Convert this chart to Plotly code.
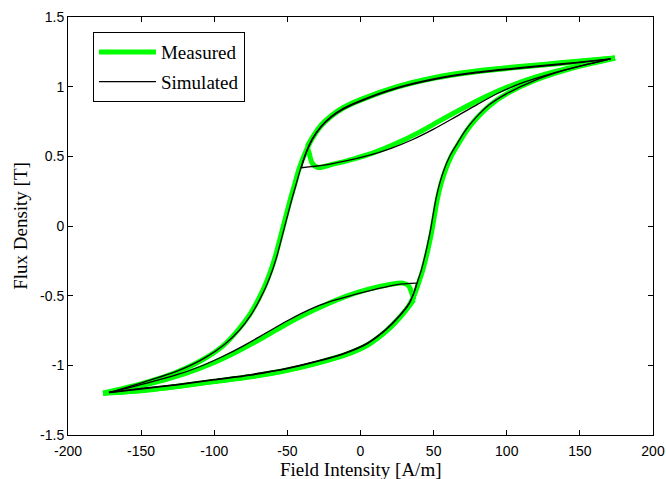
import plotly.graph_objects as go

# ---------------- data ----------------
# Simulated (black) trajectory, branch by branch
sim_desc_first_H = [171, 148, 125, 100, 75, 50, 25, 0, -12, -20, -27, -33, -37.5, -40.5]
sim_desc_first_B = [1.2, 1.175, 1.152, 1.127, 1.098, 1.056, 0.993, 0.900, 0.842, 0.785, 0.715, 0.625, 0.52, 0.418]

sim_inner_up_H = [-40.5, -25, -10, 5, 20, 35, 50, 65, 80, 95, 110, 130, 150, 171]
sim_inner_up_B = [0.418, 0.437, 0.467, 0.505, 0.553, 0.617, 0.695, 0.783, 0.873, 0.958, 1.025, 1.092, 1.148, 1.2]

sim_desc_H = [171, 148, 125, 100, 75, 50, 25, 0, -12, -20, -27, -33, -37.5, -41, -44, -47, -49.5,
              -52, -54.5, -57, -60, -64, -69, -75, -83, -93, -107, -125, -148, -172]
sim_desc_B = [1.2, 1.171, 1.147, 1.122, 1.093, 1.051, 0.988, 0.895, 0.837, 0.78, 0.71, 0.62, 0.515,
              0.41, 0.3, 0.19, 0.09, -0.01, -0.11, -0.21, -0.31, -0.42, -0.53, -0.64, -0.75,
              -0.85, -0.95, -1.04, -1.12, -1.195]

sim_asc_first_H = [-172, -150, -125, -100, -75, -50, -30, -10, 5, 17.6, 27, 33, 36.5, 38.5]
sim_asc_first_B = [-1.195, -1.17, -1.14, -1.105, -1.07, -1.024, -0.974, -0.912, -0.842, -0.743,
                   -0.643, -0.563, -0.48, -0.41]

sim_inner_down_H = [38.5, 25, 10, -5, -20, -35, -50, -65, -80, -95, -110, -125, -140, -156, -172]
sim_inner_down_B = [-0.41, -0.42, -0.455, -0.495, -0.54, -0.60, -0.68, -0.77, -0.86, -0.94,
                    -1.01, -1.065, -1.11, -1.155, -1.195]

sim_asc_H = [-172, -150, -125, -100, -75, -50, -30, -10, 5, 17.6, 27, 33, 36.5, 39, 41.5, 43.5,
             45.5, 47.5, 49.5, 51.5, 54, 57, 61, 66, 72, 79, 88, 100, 118, 140, 171]
sim_asc_B = [-1.195, -1.166, -1.136, -1.101, -1.066, -1.02, -0.97, -0.908, -0.838, -0.739,
             -0.639, -0.559, -0.48, -0.4, -0.32, -0.24, -0.15, -0.05, 0.07, 0.19, 0.3, 0.40,
             0.50, 0.59, 0.69, 0.78, 0.87, 0.95, 1.04, 1.12, 1.2]

# Measured (green) trajectory, branch by branch
meas_desc_first_H = [174, 148, 125, 100, 75, 50, 25, 0, -12, -20, -27, -32, -36.5]
meas_desc_first_B = [1.205, 1.182, 1.16, 1.136, 1.107, 1.065, 1.0, 0.907, 0.849, 0.792, 0.724, 0.65, 0.57]

meas_inner_up_H = [-36.5, -35, -33, -29, -20, -5, 10, 25, 40, 55, 70, 85, 100, 120, 145, 174]
meas_inner_up_B = [0.57, 0.52, 0.45, 0.42, 0.44, 0.48, 0.53, 0.595, 0.672, 0.76, 0.845, 0.925,
                   0.995, 1.07, 1.14, 1.205]

meas_desc_H = [174, 148, 125, 100, 75, 50, 25, 0, -12, -20, -27, -33, -38, -42, -45, -48, -50.5,
               -53, -55.5, -58, -61, -65, -70, -76, -84, -94, -108, -126, -149, -176]
meas_desc_B = [1.205, 1.178, 1.155, 1.131, 1.102, 1.06, 0.996, 0.903, 0.845, 0.788, 0.718, 0.628,
               0.52, 0.41, 0.3, 0.19, 0.09, -0.01, -0.11, -0.21, -0.31, -0.42, -0.53, -0.64,
               -0.75, -0.86, -0.96, -1.05, -1.13, -1.2]

meas_asc_first_H = [-176, -150, -125, -100, -75, -50, -30, -10, 5, 17.6, 27, 32.5, 36.5]
meas_asc_first_B = [-1.2, -1.182, -1.152, -1.117, -1.082, -1.036, -0.986, -0.924, -0.854, -0.755,
                    -0.655, -0.585, -0.53]

meas_inner_down_H = [36.5, 35, 33, 29, 20, 5, -10, -25, -40, -55, -70, -85, -100, -120, -145, -176]
meas_inner_down_B = [-0.53, -0.48, -0.43, -0.41, -0.42, -0.455, -0.505, -0.57, -0.645, -0.73,
                     -0.82, -0.905, -0.98, -1.06, -1.135, -1.2]

meas_asc_H = [-176, -150, -125, -100, -75, -50, -30, -10, 5, 17.6, 27, 33, 37, 40, 42.5, 44.5,
              46.5, 48.5, 50.5, 52.5, 55, 58, 62, 67, 73, 80, 89, 101, 119, 142, 174]
meas_asc_B = [-1.2, -1.18, -1.15, -1.115, -1.08, -1.034, -0.984, -0.922, -0.852, -0.753, -0.653,
              -0.573, -0.49, -0.4, -0.32, -0.24, -0.15, -0.05, 0.07, 0.19, 0.3, 0.40, 0.50,
              0.59, 0.69, 0.78, 0.87, 0.955, 1.045, 1.125, 1.205]

x_tick_vals = [-200, -150, -100, -50, 0, 50, 100, 150, 200]
x_tick_text = ["-200", "-150", "-100", "-50", "0", "50", "100", "150", "200"]
y_tick_vals = [-1.5, -1, -0.5, 0, 0.5, 1, 1.5]
y_tick_text = ["-1.5", "-1", "-0.5", "0", "0.5", "1", "1.5"]

series_names = ["Measured", "Simulated"]
x_title = "Field Intensity [A/m]"
y_title = "Flux Density [T]"


def join(branches):
    xs, ys = [], []
    for bx, by in branches:
        if xs:
            xs.append(None)
            ys.append(None)
        xs.extend(bx)
        ys.extend(by)
    return xs, ys


meas_x, meas_y = join([
    (meas_desc_first_H, meas_desc_first_B),
    (meas_inner_up_H, meas_inner_up_B),
    (meas_desc_H, meas_desc_B),
    (meas_asc_first_H, meas_asc_first_B),
    (meas_inner_down_H, meas_inner_down_B),
    (meas_asc_H, meas_asc_B),
])
sim_x, sim_y = join([
    (sim_desc_first_H, sim_desc_first_B),
    (sim_inner_up_H, sim_inner_up_B),
    (sim_desc_H, sim_desc_B),
    (sim_asc_first_H, sim_asc_first_B),
    (sim_inner_down_H, sim_inner_down_B),
    (sim_asc_H, sim_asc_B),
])

SERIF = "Times New Roman, Liberation Serif, serif"
SANS = "Arial, Liberation Sans, sans-serif"

fig = go.Figure()
fig.add_trace(go.Scatter(
    x=meas_x, y=meas_y, mode="lines", name=series_names[0],
    line=dict(color="#00ff00", width=5, shape="spline", smoothing=0.8),
    connectgaps=False, legendgroup="m",
))
fig.add_trace(go.Scatter(
    x=sim_x, y=sim_y, mode="lines", name=series_names[1],
    line=dict(color="black", width=1.3, shape="spline", smoothing=0.8),
    connectgaps=False, legendgroup="s",
))

axis_common = dict(
    showline=True, linecolor="black", linewidth=1, mirror="allticks",
    ticks="inside", ticklen=5, tickcolor="black", tickwidth=1,
    showgrid=False, zeroline=False,
    tickfont=dict(family=SANS, size=14, color="black"),
)

fig.update_layout(
    width=666, height=479,
    margin=dict(l=68, r=13, t=17, b=44, autoexpand=False),
    paper_bgcolor="white", plot_bgcolor="white",
    xaxis=dict(range=[-200, 200], tickmode="array", tickvals=x_tick_vals, ticktext=x_tick_text,
               ticklabelstandoff=3, automargin=False, **axis_common),
    yaxis=dict(range=[-1.5, 1.5], tickmode="array", tickvals=y_tick_vals, ticktext=y_tick_text,
               title=dict(text=y_title, font=dict(family=SERIF, size=19, color="black"), standoff=7),
               automargin=False, **axis_common),
    legend=dict(
        x=0.0427, y=0.964, xanchor="left", yanchor="top",
        bgcolor="white", bordercolor="black", borderwidth=1,
        font=dict(family=SERIF, size=19, color="black"),
        traceorder="grouped", tracegroupgap=2, itemwidth=57,
    ),
    showlegend=True,
)

# x-axis title placed low, as in the reference
fig.add_annotation(
    text=x_title, xref="paper", yref="paper", x=0.5, y=0,
    xanchor="center", yanchor="top", yshift=-22, showarrow=False,
    font=dict(family=SERIF, size=19, color="black"),
)

fig.write_html("out.html")
